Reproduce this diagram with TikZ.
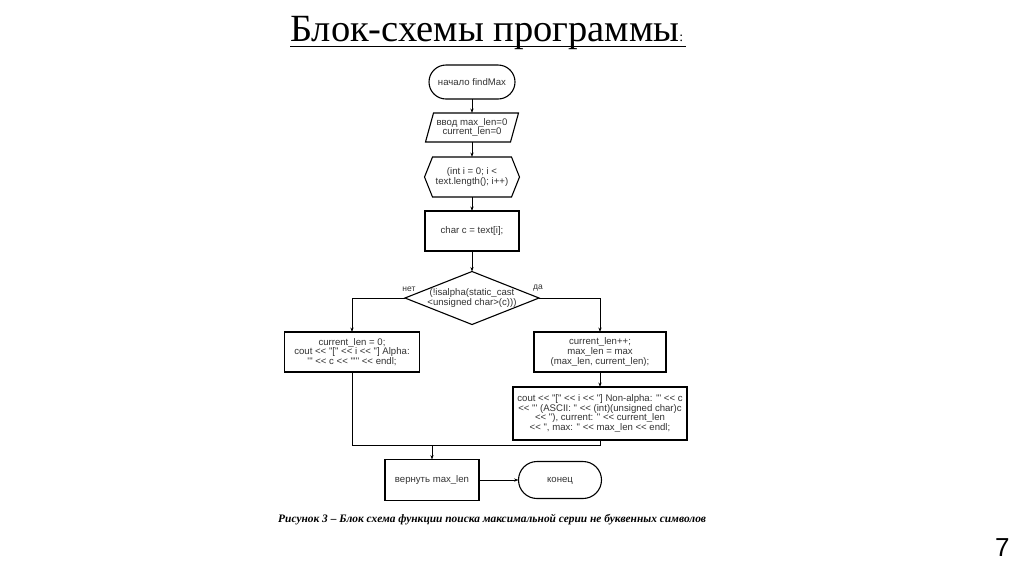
\documentclass[tikz,border=0pt]{standalone}
\usepackage{fontspec}
\setmainfont{Liberation Serif}
\newfontfamily\pgnumfont{Liberation Sans}
\font\fcs="Liberation Sans" at 9.6pt
\font\flab="Liberation Sans" at 8.5pt
\usetikzlibrary{arrows.meta,calc}
\begin{document}
\begin{tikzpicture}[x=1pt,y=-1pt,
  ln/.style={line width=0.8pt,draw=black},
  arr/.style={ln,-{Stealth[length=4.5pt,width=3.2pt]}},
  bx/.style={line width=1.1pt,draw=black},
  txt/.style={font={\fontsize{9.6}{9.8}\selectfont\fcs},text=black!80,align=center,inner sep=1pt,outer sep=0pt},
  rbox/.style={txt,bx},
  term/.style={rbox},
  lab/.style={font=\flab,text=black!80,inner sep=0pt}]
\useasboundingbox (0,0) rectangle (1024,574);
\fill[white] (0,0) rectangle (1024,574);

% title
\node[anchor=base west,inner sep=0pt,font=\fontsize{38.5}{38.5}\selectfont] (title) at (290,41)
  {Блок-схемы программы{\fontsize{14}{14}\selectfont:}};
\draw[line width=1.6pt] ($(title.base west)+(0,5.5)$) -- ($(title.base east)+(2,5.5)$);

% flowchart nodes
\node[term,minimum width=86,minimum height=34,rounded corners=17pt] (start) at (472,82) {начало findMax};

\node[txt,minimum width=85,minimum height=29] (inp) at (472,127.5) {ввод max\_len=0\\current\_len=0};
\draw[bx] ($(inp.north west)+(4,0)$) -- ($(inp.north east)+(4,0)$) -- ($(inp.south east)+(-4,0)$) -- ($(inp.south west)+(-4,0)$) -- cycle;

\node[txt,minimum width=95,minimum height=40] (loop) at (472,177) {(int i = 0; i <\\text.length(); i++)};
\draw[bx] (loop.west) -- ($(loop.north west)+(8,0)$) -- ($(loop.north east)+(-8,0)$) -- (loop.east) -- ($(loop.south east)+(-8,0)$) -- ($(loop.south west)+(8,0)$) -- cycle;

\node[rbox,minimum width=94,minimum height=40] (chr) at (472,231) {char c = text[i];};

\node[txt,minimum width=134,minimum height=53] (dec) at (472,298) {(!isalpha(static\_cast\\<unsigned char>(c)))};
\draw[bx] (dec.north) -- (dec.east) -- (dec.south) -- (dec.west) -- cycle;
\node[lab] (no) at ($(dec.west)+(4,-9)$) {нет};
\node[lab] (yes) at ($(dec.east)+(-1,-10)$) {да};

\node[rbox,minimum width=135,minimum height=40] (lb) at (352,352)
  {current\_len = 0;\\cout << "[" << i << "] Alpha:\\'" << c << "'" << endl;};
\node[rbox,minimum width=132,minimum height=40] (rb1) at (600,352)
  {current\_len++;\\max\_len = max\\(max\_len, current\_len);};
\node[rbox,minimum width=174,minimum height=53] (rb2) at (600,413.5)
  {cout << "[" << i << "] Non-alpha: '" << c\\<< "' (ASCII: " << (int)(unsigned char)c\\<< "), current: " << current\_len\\<< ", max: " << max\_len << endl;};

\node[rbox,minimum width=94,minimum height=41] (ret) at (432,480) {вернуть max\_len};
\node[term,minimum width=83,minimum height=37,rounded corners=18.5pt,text height=6pt,text depth=2pt] (fin) at (560,480) {конец};

\coordinate (j) at (432,445);

% connectors
\draw[arr] (start.south) -- (inp.north);
\draw[arr] (inp.south) -- (loop.north);
\draw[arr] (loop.south) -- (chr.north);
\draw[arr] (chr.south) -- (dec.north);
\draw[arr] (dec.west) -| (lb.north);
\draw[arr] (dec.east) -| (rb1.north);
\draw[arr] (rb1.south) -- (rb2.north);
\draw[ln] (lb.south) |- (j) -| (rb2.south);
\draw[arr] (j) -- (ret.north);
\draw[arr] (ret.east) -- (fin.west);

% caption
\node[anchor=base west,inner sep=0pt,font=\fontsize{11.4}{12}\selectfont\bfseries\itshape] (cap) at (278,522)
  {Рисунок 3 – Блок схема функции поиска максимальной серии не буквенных символов};

% page number
\node[anchor=base west,inner sep=0pt,font=\pgnumfont\fontsize{26}{26}\selectfont] (pg) at (995,556) {7};
\end{tikzpicture}
\end{document}
